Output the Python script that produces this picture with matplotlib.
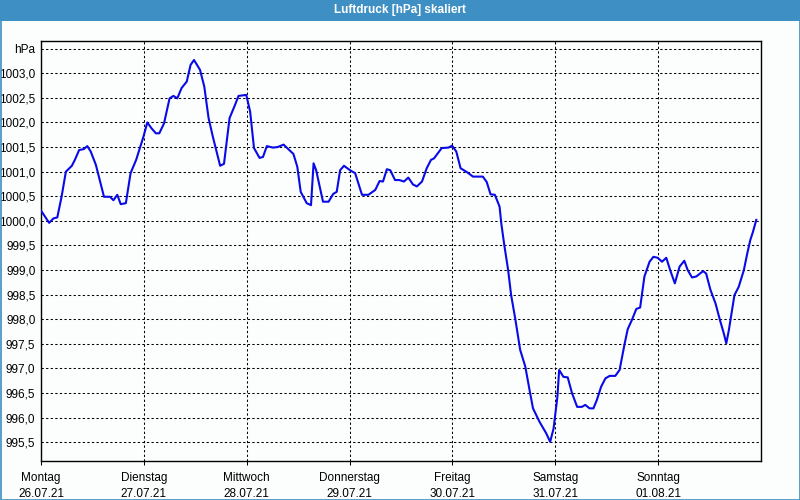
import numpy as np
import matplotlib
matplotlib.use("Agg")
import matplotlib.pyplot as plt
from matplotlib.patches import Rectangle

plt.rcParams['font.family'] = ['Liberation Sans', 'DejaVu Sans']

# hours since Monday 00:00 and pressure in hPa
hours = [0, 1.9, 2.9, 3.8, 4.8, 5.8, 7.2, 7.9, 8.9, 10.0, 10.8, 11.6, 12.8, 14.7,
         16.1, 16.9, 17.8, 18.6, 19.8, 20.9, 22.2, 23.9, 24.8, 25.8, 26.8, 27.6,
         28.7, 30.0, 30.9, 31.8, 32.8, 34.0, 34.9, 35.7, 37.1, 38.1, 39.1, 40.1,
         41.8, 42.7, 44.0, 45.1, 46.1, 47.9, 48.8, 49.7, 51.0, 51.8, 52.7, 54.1,
         55.2, 56.6, 57.7, 58.9, 59.8, 60.6, 62.0, 63.0, 63.6, 64.2, 65.8, 67.1,
         68.2, 69.0, 69.8, 70.7, 72.1, 73.3, 74.9, 76.4, 78.0, 79.0, 79.8, 80.7,
         81.5, 82.6, 83.6, 84.7, 85.7, 86.8, 87.7, 88.9, 90.0, 91.0, 91.7, 93.5,
         95.1, 95.9, 96.9, 97.9, 99.4, 100.8, 103.1, 104.0, 104.9, 105.9, 107.0,
         107.4, 108.1, 109.0, 109.7, 110.7, 111.8, 113.0, 114.0, 114.8, 116.3,
         117.9, 118.8, 119.6, 120.5, 120.9, 121.9, 122.9, 123.9, 125.1, 126.2,
         127.0, 128.0, 128.9, 129.7, 130.7, 131.7, 132.7, 134.0, 135.0, 135.6,
         136.2, 136.9, 137.9, 138.9, 139.8, 140.8, 142.0, 142.9, 143.9, 144.9,
         145.9, 146.8, 147.9, 149.0, 150.1, 150.9, 151.9, 152.9, 154.5, 155.2,
         156.2, 157.4, 158.4, 159.3, 159.9, 160.5, 161.8, 162.8, 164.0, 164.8,
         165.5, 166.1, 166.9]
pressure = [1000.21, 999.96, 1000.05, 1000.07, 1000.49, 1001.00, 1001.12, 1001.24,
            1001.44, 1001.46, 1001.52, 1001.41, 1001.14, 1000.49, 1000.49, 1000.42,
            1000.53, 1000.34, 1000.36, 1000.97, 1001.24, 1001.71, 1002.00, 1001.88,
            1001.78, 1001.78, 1001.98, 1002.49, 1002.54, 1002.49, 1002.70, 1002.83,
            1003.17, 1003.27, 1003.07, 1002.73, 1002.09, 1001.71, 1001.12, 1001.16,
            1002.09, 1002.32, 1002.54, 1002.56, 1002.22, 1001.48, 1001.28, 1001.30,
            1001.52, 1001.49, 1001.50, 1001.55, 1001.46, 1001.36, 1001.10, 1000.59,
            1000.36, 1000.32, 1001.17, 1001.03, 1000.39, 1000.39, 1000.55, 1000.59,
            1001.03, 1001.12, 1001.03, 1000.97, 1000.53, 1000.53, 1000.63, 1000.81,
            1000.80, 1001.05, 1001.03, 1000.83, 1000.83, 1000.80, 1000.88, 1000.74,
            1000.70, 1000.80, 1001.07, 1001.24, 1001.27, 1001.48, 1001.49, 1001.53,
            1001.41, 1001.07, 1000.99, 1000.90, 1000.90, 1000.79, 1000.54, 1000.53,
            1000.29, 999.95, 999.51, 999.00, 998.49, 997.99, 997.38, 997.04, 996.56,
            996.19, 995.92, 995.68, 995.51, 995.78, 996.43, 996.97, 996.83, 996.82,
            996.50, 996.22, 996.22, 996.26, 996.19, 996.19, 996.36, 996.63, 996.80,
            996.85, 996.85, 996.97, 997.24, 997.51, 997.80, 997.99, 998.21, 998.24,
            998.87, 999.17, 999.27, 999.25, 999.17, 999.25, 999.00, 998.73, 999.07,
            999.19, 999.00, 998.85, 998.87, 998.98, 998.93, 998.60, 998.32, 997.99,
            997.72, 997.51, 997.78, 998.49, 998.66, 999.00, 999.34, 999.61, 999.77,
            1000.02]

days = ["Montag", "Dienstag", "Mittwoch", "Donnerstag", "Freitag", "Samstag", "Sonntag"]
dates = ["26.07.21", "27.07.21", "28.07.21", "29.07.21", "30.07.21", "31.07.21", "01.08.21"]
yticks = [995.5, 996.0, 996.5, 997.0, 997.5, 998.0, 998.5, 999.0, 999.5,
          1000.0, 1000.5, 1001.0, 1001.5, 1002.0, 1002.5, 1003.0, 1003.5]

bar_blue = '#3d8fc4'
bg = '#fbfefd'

fig = plt.figure(figsize=(8, 5), dpi=100, facecolor=bg)
ax = fig.add_axes([41/800, 39/500, 720/800, 420/500], facecolor=bg)

ax.plot(hours, pressure, color='#0a0ae6', lw=1.5, zorder=3)

ax.set_xlim(0, 168)
ax.set_ylim(995.12, 1003.656)
ax.set_xticks([24*i for i in range(len(days))])
ax.set_xticklabels([d + "\n" + dt for d, dt in zip(days, dates)], linespacing=1.4)
ax.set_yticks(yticks)
ax.set_yticklabels([("%.1f" % v).replace(".", ",") for v in yticks[:-1]] + ["hPa"])

ax.grid(True, color='black', linestyle=(0, (2.2, 2.2)), lw=0.75)
ax.tick_params(axis='y', length=0, pad=4, labelsize=8.5)
ax.tick_params(axis='x', length=3, width=0.75, pad=5, labelsize=8.5, direction='out')
for s in ax.spines.values():
    s.set_linewidth(1.0)
    s.set_color('black')

# title bar and window border
fig.patches.append(Rectangle((0, 1 - 21/500), 1, 21/500, transform=fig.transFigure,
                             facecolor=bar_blue, edgecolor='none', zorder=0))
fig.patches.append(Rectangle((0.5/800, 0.5/500), 799/800, 1 - 1/500, transform=fig.transFigure,
                             facecolor='none', edgecolor=bar_blue, lw=1.2, zorder=1))
fig.text(0.5, 1 - 10.5/500, "Luftdruck [hPa] skaliert", color='white', fontsize=8.5,
         fontweight='bold', ha='center', va='center')

fig.savefig("out.png", dpi=100, facecolor=bg)
